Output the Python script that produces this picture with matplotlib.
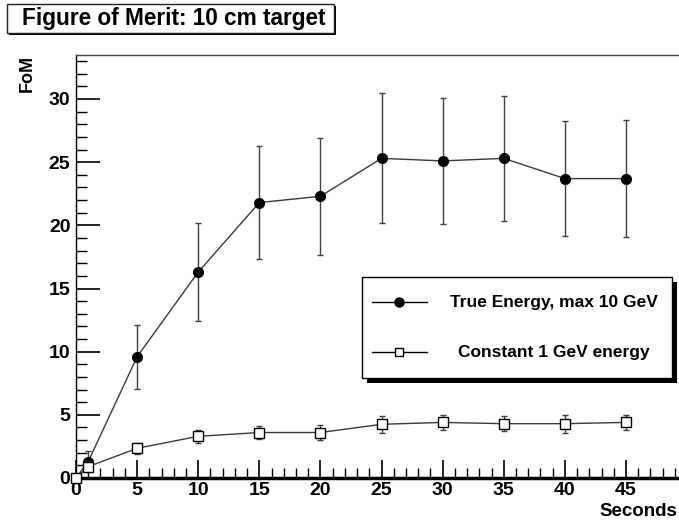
import matplotlib
matplotlib.use("Agg")
import matplotlib.pyplot as plt
from matplotlib.patches import Rectangle
from matplotlib.lines import Line2D
from matplotlib.ticker import MultipleLocator

plt.rcParams['font.family'] = ['Liberation Sans', 'DejaVu Sans']
plt.rcParams['font.weight'] = 'bold'

# Time bins (seconds)
seconds = [0, 1, 5, 10, 15, 20, 25, 30, 35, 40, 45]

# Figure of merit, true energy (max 10 GeV)
fom_true = [0.0, 1.3, 9.6, 16.3, 21.8, 22.3, 25.3, 25.1, 25.3, 23.7, 23.7]
err_true = [0.0, 0.8, 2.55, 3.85, 4.5, 4.65, 5.15, 5.0, 4.95, 4.55, 4.65]

# Figure of merit, constant 1 GeV energy
fom_const = [0.0, 0.9, 2.35, 3.3, 3.6, 3.6, 4.25, 4.4, 4.3, 4.3, 4.4]
err_const = [0.0, 0.45, 0.45, 0.5, 0.55, 0.6, 0.65, 0.6, 0.6, 0.7, 0.6]

labels = ["True Energy, max 10 GeV", "Constant 1 GeV energy"]

W, H = 679, 525
fig = plt.figure(figsize=(W / 100, H / 100), dpi=100)

def fx(px):
    return px / W

def fy(py):
    return 1 - py / H

ax_left, ax_right, ax_top, ax_bottom = 76, 679, 55, 478
ax = fig.add_axes([fx(ax_left), fy(ax_bottom), fx(ax_right - ax_left), (ax_bottom - ax_top) / H])
ax.set_xlim(0, (ax_right - ax_left) / (550 / 45))
ax.set_ylim(0, (ax_bottom - ax_top) / (379 / 30))

line_col = '#3a3a3a'
ax.errorbar(seconds, fom_true, yerr=err_true, fmt='o', color='black', ms=7,
            ecolor='#404040', elinewidth=1, capsize=2, capthick=1, clip_on=False, zorder=3)
ax.plot(seconds, fom_true, '-', color=line_col, lw=1, zorder=2, clip_on=False)
ax.errorbar(seconds, fom_const, yerr=err_const, fmt='s', mfc='white', mec='black', mew=1,
            ms=6.5, color='black', ecolor='#404040', elinewidth=1, capsize=2, capthick=1,
            clip_on=False, zorder=4)
ax.plot(seconds, fom_const, '-', color=line_col, lw=1, zorder=2, clip_on=False)

# ROOT-like axis styling
ax.spines['right'].set_visible(False)
ax.spines['top'].set_linewidth(1)
ax.spines['top'].set_color('#444444')
ax.spines['left'].set_linewidth(1)
ax.spines['bottom'].set_linewidth(2.5)
ax.xaxis.set_major_locator(MultipleLocator(5))
ax.xaxis.set_minor_locator(MultipleLocator(1))
ax.yaxis.set_major_locator(MultipleLocator(5))
ax.yaxis.set_minor_locator(MultipleLocator(1))
ax.tick_params(axis='x', which='major', direction='in', length=13, width=1.2, labelsize=14, pad=3)
ax.tick_params(axis='x', which='minor', direction='in', length=7, width=1)
ax.tick_params(axis='y', which='major', direction='in', length=17, width=1.2, labelsize=14, pad=4)
ax.tick_params(axis='y', which='minor', direction='in', length=8, width=1)
for lab in ax.get_xticklabels() + ax.get_yticklabels():
    lab.set_fontweight('bold')

fig.text(fx(27), fy(55), "FoM", rotation=90, ha='center', va='top', fontsize=13, fontweight='bold')
fig.text(fx(677), fy(512), "Seconds", ha='right', va='center', fontsize=13.5, fontweight='bold')

# Title box with shadow
fig.patches.append(Rectangle((fx(9), fy(35)), fx(327), (29) / H, transform=fig.transFigure,
                             facecolor='black', edgecolor='none', zorder=1))
fig.patches.append(Rectangle((fx(7), fy(33)), fx(327), (29) / H, transform=fig.transFigure,
                             facecolor='white', edgecolor='#222222', lw=1, zorder=2))
fig.text(fx(22), fy(18.5), "Figure of Merit: 10 cm target", ha='left', va='center',
         fontsize=16.3, fontweight='bold', zorder=3)

# Legend box with shadow
lx0, ly0, lx1, ly1 = 362, 277, 672, 378
sh = 5
fig.patches.append(Rectangle((fx(lx0 + sh), fy(ly1 + sh)), fx(lx1 - lx0), (ly1 - ly0) / H,
                             transform=fig.transFigure, facecolor='black', edgecolor='none', zorder=4))
fig.patches.append(Rectangle((fx(lx0), fy(ly1)), fx(lx1 - lx0), (ly1 - ly0) / H,
                             transform=fig.transFigure, facecolor='white', edgecolor='black',
                             lw=1, zorder=5))
for row_y, marker, mfc, text in [(302, 'o', 'black', labels[0]), (352, 's', 'white', labels[1])]:
    fig.add_artist(Line2D([fx(372), fx(427)], [fy(row_y), fy(row_y)], color='black', lw=1,
                          transform=fig.transFigure, zorder=6))
    fig.add_artist(Line2D([fx(399)], [fy(row_y)], marker=marker, ms=6.5 if marker == 'o' else 5.5,
                          mfc=mfc, mec='black', mew=1, transform=fig.transFigure, zorder=7))
    fig.text(fx(554), fy(row_y), text, ha='center', va='center', fontsize=12.5,
             fontweight='bold', zorder=7)

fig.savefig("out.png", dpi=100)
